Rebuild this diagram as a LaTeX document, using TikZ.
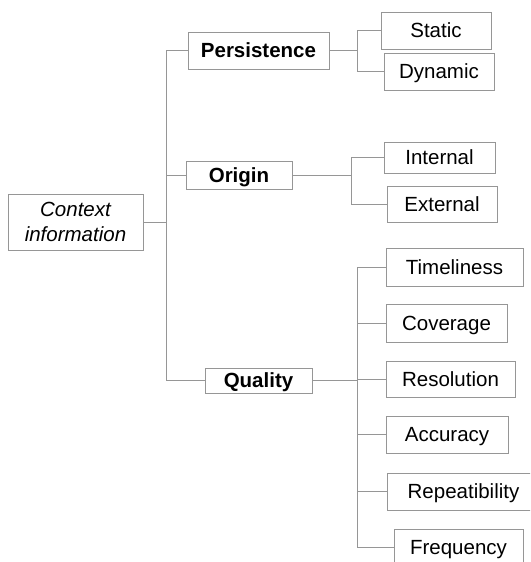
\documentclass[tikz,border=0pt]{standalone}
\usepackage{fontspec}
\setmainfont{Liberation Sans}
\usetikzlibrary{positioning}
\definecolor{linegray}{RGB}{150,150,150}

\begin{document}
\begin{tikzpicture}[
    x=1pt, y=-1pt,
    line width=0.8pt,
    link/.style={draw=linegray},
    base node/.style={rectangle,draw=linegray,fill=white,inner sep=0pt,text height=14.7pt,text depth=0pt,font=\fontsize{20.5}{25}\selectfont},
    root node/.style={rectangle,draw=linegray,fill=white,inner sep=0pt,text depth=0pt,align=center,font=\fontsize{20.5}{25}\selectfont\itshape},
    group node/.style={base node,font=\fontsize{20.5}{25}\selectfont\bfseries},
    leaf node/.style={base node}
]
\clip (0,0) rectangle (530,562);
\useasboundingbox (0,0) rectangle (530,562);

% Root
\node[root node, minimum width=135, minimum height=56] (ctx) at (75.5,222) {Context\\information};

% Groups
\node[group node, minimum width=141, minimum height=37] (pers) at (258.5,50.5) {Persistence};
\node[group node, minimum width=106, minimum height=28] (orig) at (239,175) {Origin};
\node[group node, minimum width=107, minimum height=25] (qual) at (258.5,380.5) {Quality};

% Leaves
\node[leaf node, minimum width=110, minimum height=37] (static) at (436,30.5) {Static};
\node[leaf node, minimum width=110, minimum height=37] (dynamic) at (439,71.5) {Dynamic};
\node[leaf node, minimum width=111, minimum height=31] (internal) at (439.5,157.5) {Internal};
\node[leaf node, minimum width=110, minimum height=36] (external) at (442,204) {External};
\node[leaf node, minimum width=137, minimum height=38] (timeliness) at (454.5,267) {Timeliness};
\node[leaf node, minimum width=121, minimum height=38] (coverage) at (446.5,323) {Coverage};
\node[leaf node, minimum width=129, minimum height=36] (resolution) at (450.5,379) {Resolution};
\node[leaf node, minimum width=122, minimum height=37] (accuracy) at (447,434.5) {Accuracy};
\node[leaf node, minimum width=153, minimum height=37] (repeat) at (463.5,491.5) {Repeatibility};
\node[leaf node, minimum width=129, minimum height=37] (frequency) at (458.5,547.5) {Frequency};

% Junctions
\coordinate (jroot) at (166,222);
\coordinate (jpers) at (357,50.5);
\coordinate (jorig) at (351,175);
\coordinate (jqual) at (357,380.5);

% Root to groups
\draw[link] (ctx) -- (jroot);
\draw[link] (pers.west) -| (jroot);
\draw[link] (orig.west) -| (jroot);
\draw[link] (qual.west) -| (jroot);

% Persistence
\draw[link] (pers) -- (jpers);
\draw[link] (static.west) -| (jpers);
\draw[link] (dynamic.west) -| (jpers);

% Origin
\draw[link] (orig) -- (jorig);
\draw[link] (internal.west) -| (jorig);
\draw[link] (external.west) -| (jorig);

% Quality
\draw[link] (qual) -- (jqual);
\foreach \n in {timeliness,coverage,resolution,accuracy,repeat,frequency}
    \draw[link] (\n.west) -| (jqual);

\end{tikzpicture}
\end{document}
